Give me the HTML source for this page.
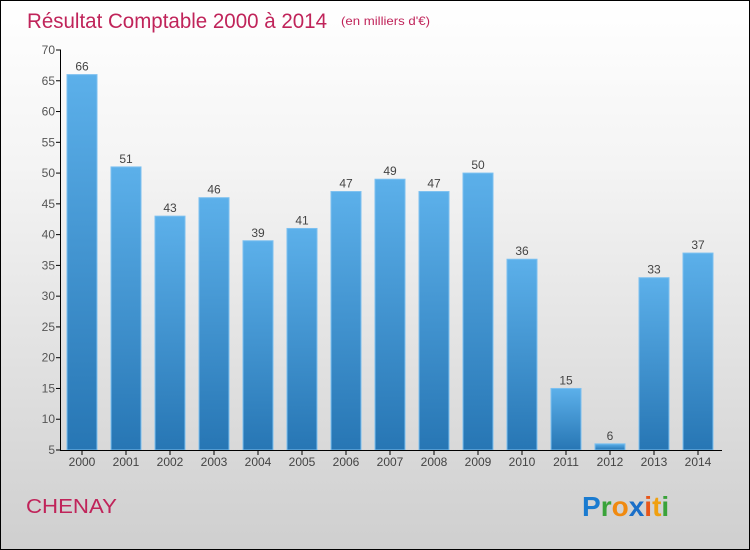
<!DOCTYPE html>
<html><head><meta charset="utf-8"><style>
html,body{margin:0;padding:0;}
body{width:750px;height:550px;overflow:hidden;font-family:"Liberation Sans",sans-serif;}
#wrap{position:absolute;left:0;top:0;width:748px;height:548px;border:1px solid #000;background:linear-gradient(#fff,#f4f4f4 30%,#cfcfcf);}
</style></head><body>
<div id="wrap">
<svg width="750" height="550" style="position:absolute;left:-1px;top:-1px">
<defs>
<linearGradient id="bg" x1="0" y1="0" x2="0" y2="1"><stop offset="0" stop-color="#5cb0ea"/><stop offset="1" stop-color="#2776b4"/></linearGradient>
</defs>
<text x="27" y="28" font-size="21" fill="#c0245a" textLength="300" lengthAdjust="spacingAndGlyphs">Résultat Comptable 2000 à 2014</text>
<text x="341" y="25" font-size="12" fill="#c0245a" textLength="89" lengthAdjust="spacingAndGlyphs">(en milliers d'€)</text>
<g id="plot"></g>
<text x="26" y="513" font-size="20" fill="#c0245a" textLength="91" lengthAdjust="spacingAndGlyphs">CHENAY</text>
<text x="582" y="516" font-size="28" font-weight="bold"><tspan fill="#1a7bd0">P</tspan><tspan fill="#3aa33a">r</tspan><tspan fill="#f08a10">o</tspan><tspan fill="#1a6fc8">x</tspan><tspan fill="#e8561a">i</tspan><tspan fill="#f0a010">t</tspan><tspan fill="#3aa33a">i</tspan></text>
</svg>
</div>
<script>
const years=["2000","2001","2002","2003","2004","2005","2006","2007","2008","2009","2010","2011","2012","2013","2014"];
const values=[66,51,43,46,39,41,47,49,47,50,36,15,6,33,37];
const yTicks=[5,10,15,20,25,30,35,40,45,50,55,60,65,70];
const NS="http://www.w3.org/2000/svg";
const g=document.getElementById('plot');
const y=v=>450-(v-5)*400/65;
const x=i=>82+i*44;
function mk(t,a){const e=document.createElementNS(NS,t);for(const k in a)e.setAttribute(k,a[k]);g.appendChild(e);return e;}
yTicks.forEach(t=>{
 const l=mk('line',{x1:56,x2:61,y1:y(t),y2:y(t),stroke:'#000'});
 
 
 const tx=mk('text',{x:55,y:y(t)+4,'font-size':12,'text-anchor':'end',fill:'#555'});
 tx.textContent=t;
 
 
});
values.forEach((v,i)=>{
 const r=mk('rect',{x:x(i)-15,y:y(v),width:30,height:450-y(v),fill:'url(#bg)',stroke:'#7cc0f0','stroke-width':1});
 
 
 const vl=mk('text',{x:x(i),y:y(v)-4,'font-size':12,'text-anchor':'middle',fill:'#444'});
 vl.textContent=v;
 
 
 const tk=mk('line',{x1:x(i),x2:x(i),y1:450,y2:455,stroke:'#000'});
 
 
 const xl=mk('text',{x:x(i),y:466,'font-size':12,'text-anchor':'middle',fill:'#444'});
 xl.textContent=years[i];
 
 
});
const ya=mk('line',{x1:60.5,x2:60.5,y1:50,y2:451,stroke:'#000'});


const xa=mk('line',{x1:60,x2:722,y1:450.5,y2:450.5,stroke:'#000'});


</script>
</body></html>
